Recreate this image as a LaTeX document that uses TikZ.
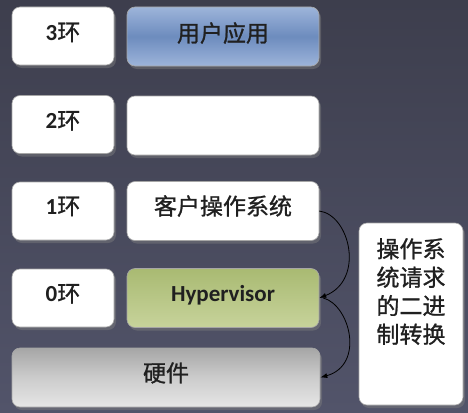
\documentclass[tikz,border=0pt]{standalone}
\usepackage{fontspec}
\setmainfont{Carlito}
\newfontfamily\cjk[FakeBold=1]{Noto Sans CJK SC}
\usetikzlibrary{shadows,arrows.meta}
\definecolor{bgtop}{HTML}{3D3E4D}
\definecolor{bgbot}{HTML}{52546A}
\definecolor{txt}{HTML}{202020}
\definecolor{blueA}{HTML}{9DB4DA}
\definecolor{blueB}{HTML}{6D8CBE}
\definecolor{greenA}{HTML}{A9BA72}
\definecolor{greenB}{HTML}{C7D39B}
\begin{document}
\begin{tikzpicture}[x=1pt,y=-1pt,
  box/.style={rounded corners=8pt, draw=black!35, line width=0.6pt,
    text=txt, font=\fontsize{23}{26}\selectfont,
    drop shadow={opacity=0.45, shadow xshift=2pt, shadow yshift=-3pt}},
  ringbox/.style={box, fill=white, minimum width=102pt, minimum height=58pt},
  wide/.style={box, minimum width=192pt, minimum height=59pt},
  arr/.style={-{Latex[length=7pt,width=5pt]}, line width=0.8pt, black}]
\useasboundingbox (0,0) rectangle (468,412);
\shade[top color=bgtop, bottom color=bgbot] (0,0) rectangle (468,412);

\node[ringbox] (r3) at (63,36) {\raisebox{9pt}{\textbf{3}\cjk 环}};
\node[ringbox] (r2) at (63,124.5) {\raisebox{9pt}{\textbf{2}\cjk 环}};
\node[ringbox] (r1) at (63,211) {\raisebox{11pt}{\textbf{1}\cjk 环}};
\node[ringbox] (r0) at (63,298) {\raisebox{10pt}{\textbf{0}\cjk 环}};

\node[wide, top color=blueA, bottom color=blueA, middle color=blueB] (app) at (223,36.5) {\raisebox{9pt}{\cjk 用户应用}};
\node[wide, fill=white] (blank) at (223,125.5) {};
\node[wide, fill=white] (guest) at (223,211) {\raisebox{12pt}{\cjk 客户操作系统}};
\node[wide, top color=greenA, bottom color=greenB] (hyp) at (223,298) {\raisebox{9pt}{\textbf{Hypervisor}}};

\node[box, minimum width=308pt, minimum height=59pt, shading=axis, shading angle=160,
  top color=black!35, bottom color=black!10, middle color=black!20] (hw) at (166,377.5) {\raisebox{11pt}{\cjk 硬件}};

\node[box, fill=white, minimum width=104pt, minimum height=182pt] (side) at (411,314) {};
\node[text=txt, align=center, font=\cjk\fontsize{23}{28.5}\selectfont] (sidetext) at (411,291.5) {操作系\\统请求\\的二进\\制转换};

\draw[arr] (guest.east) .. controls (350,215) and (365,280) .. (hyp.east);
\draw[arr] ([xshift=4pt]hyp.east) .. controls (350,305) and (365,365) .. (hw.east);
\end{tikzpicture}
\end{document}
